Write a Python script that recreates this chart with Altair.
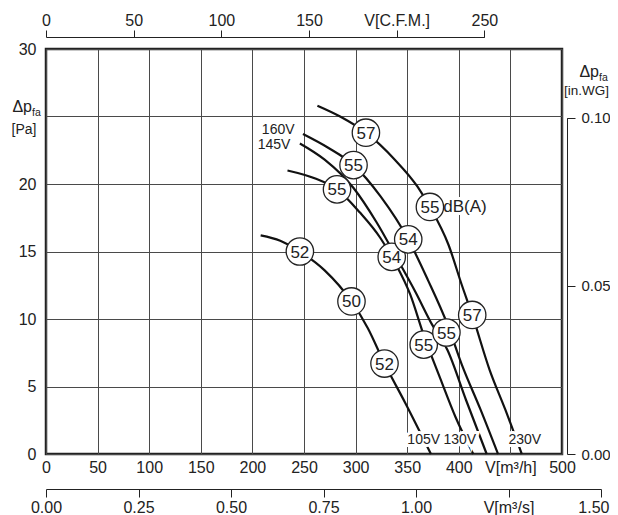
import altair as alt
import pandas as pd

# ---------------- data ----------------
# fan curves: volume flow [m3/h] vs. static pressure [Pa]
flow_105V = [208, 227, 246, 270, 296, 312, 328, 348, 373]
dp_105V = [16.2, 15.8, 15.0, 13.6, 11.3, 9.3, 6.7, 3.8, 0.0]

flow_130V = [234, 261, 282, 304, 324, 338, 353, 366, 382, 397, 414]
dp_130V = [21.0, 20.4, 19.6, 17.9, 16.0, 14.2, 11.8, 8.8, 5.6, 2.7, 0.0]

flow_145V = [246, 270, 298, 320, 340, 358, 374, 389, 407, 427]
dp_145V = [23.0, 21.8, 19.7, 17.2, 14.5, 12.0, 9.6, 7.7, 4.0, 0.0]

flow_160V = [249, 273, 298, 324, 351, 370, 389, 403, 421, 438]
dp_160V = [23.7, 22.7, 21.4, 19.1, 15.9, 12.9, 9.6, 6.6, 3.3, 0.0]

flow_230V = [263, 285, 310, 338, 360, 372, 390, 403, 413, 430, 445, 461]
dp_230V = [25.8, 25.0, 23.8, 21.8, 19.8, 18.3, 15.5, 12.5, 10.3, 6.2, 3.3, 0.0]

# sound level markers dB(A)
marker_flow = [246, 296, 328, 282, 335, 366, 298, 351, 388, 310, 372, 413]
marker_dp = [15.0, 11.3, 6.7, 19.6, 14.6, 8.1, 21.4, 15.9, 9.0, 23.8, 18.3, 10.3]
marker_db = ["52", "50", "52", "55", "54", "55", "55", "54", "55", "57", "55", "57"]

# voltage labels
volt_text = ["160V", "145V", "105V", "130V", "230V"]
volt_flow = [225, 221, 366, 401, 464]
volt_dp = [24.0, 22.9, 1.05, 1.05, 1.05]

unit_text = ["dB(A)"]
unit_flow = [406]
unit_dp = [18.3]

# axes
x_ticks = [0, 50, 100, 150, 200, 250, 300, 350, 400, 450, 500]
y_ticks = [0, 5, 10, 15, 20, 25, 30]
cfm_ticks = [0, 50, 100, 150, 200, 250]
ms_ticks = [0.0, 0.25, 0.5, 0.75, 1.0, 1.25, 1.5]
inwg_ticks = [0.0, 0.05, 0.10]

# ---------------- layout / style ----------------
W, H = 516, 405
FONT = "Liberation Sans"
INK = "#222222"
GRID = "#4a4a4a"
CFM_TO_M3H = 1.699
PA_PER_INWG = 249.09

curves = pd.DataFrame(
    [
        dict(volt=v, flow=f, dp=p, i=i)
        for v, fl, dps in [
            ("105V", flow_105V, dp_105V),
            ("130V", flow_130V, dp_130V),
            ("145V", flow_145V, dp_145V),
            ("160V", flow_160V, dp_160V),
            ("230V", flow_230V, dp_230V),
        ]
        for i, (f, p) in enumerate(zip(fl, dps))
    ]
)
markers = pd.DataFrame({"flow": marker_flow, "dp": marker_dp, "db": marker_db})
vlabels = pd.DataFrame({"flow": volt_flow, "dp": volt_dp, "t": volt_text})
ulabels = pd.DataFrame({"flow": unit_flow, "dp": unit_dp, "t": unit_text})

x_axis = alt.Axis(
    orient="bottom", values=x_ticks, grid=True, gridColor=GRID, gridWidth=1,
    ticks=False, tickSize=0, domain=False, labelPadding=5, labelFlush=False,
    labelOverlap=False, labelFontSize=16, labelColor=INK, labelFont=FONT,
    labelExpr="datum.value == 450 ? 'V[m³/h]' : datum.label", title=None,
)
y_axis = alt.Axis(
    orient="left", values=y_ticks, grid=True, gridColor=GRID, gridWidth=1,
    ticks=False, tickSize=0, domain=False, labelPadding=10, labelFlush=False,
    labelOverlap=False, labelFontSize=16, labelColor=INK, labelFont=FONT,
    labelExpr="datum.value == 25 ? '' : datum.label", title=None,
)
X = alt.X("flow:Q", scale=alt.Scale(domain=[0, 500], nice=False, zero=False), axis=x_axis)
Y = alt.Y("dp:Q", scale=alt.Scale(domain=[0, 30], nice=False, zero=False), axis=y_axis)

lines = alt.Chart(curves).mark_line(
    color="#111111", strokeWidth=2.2, interpolate="monotone"
).encode(x=X, y=Y, detail="volt:N", order="i:Q")

halo_v = alt.Chart(vlabels).mark_text(
    font=FONT, fontSize=14, fill="white", stroke="white", strokeWidth=6,
    align="center", baseline="middle",
).encode(x=X, y=Y, text="t:N")
text_v = alt.Chart(vlabels).mark_text(
    font=FONT, fontSize=14, fill=INK, align="center", baseline="middle",
).encode(x=X, y=Y, text="t:N")

halo_u = alt.Chart(ulabels).mark_text(
    font=FONT, fontSize=17, fill="white", stroke="white", strokeWidth=6,
    align="center", baseline="middle",
).encode(x=X, y=Y, text="t:N")
text_u = alt.Chart(ulabels).mark_text(
    font=FONT, fontSize=17, fill=INK, align="center", baseline="middle",
).encode(x=X, y=Y, text="t:N")

circles = alt.Chart(markers).mark_point(
    shape="circle", filled=True, fill="white", stroke=INK, strokeWidth=1.3,
    size=750, opacity=1,
).encode(x=X, y=Y)
circle_text = alt.Chart(markers).mark_text(
    font=FONT, fontSize=17, fill=INK, align="center", baseline="middle", dy=1,
).encode(x=X, y=Y, text="db:N")

one = pd.DataFrame({"a": [0]})


def label(txt, x, y, size, align="center"):
    return alt.Chart(one).mark_text(
        font=FONT, fontSize=size, fill=INK, align=align, baseline="middle"
    ).encode(x=alt.value(x), y=alt.value(y), text=alt.value(txt))


titles = [
    label("Δp", -14, 58, 16, "right"),
    label("fa", -14, 64, 10.5, "left"),
    label("[Pa]", -22, 81, 14),
    label("Δp", 553, 23, 16, "right"),
    label("fa", 553, 29, 10.5, "left"),
    label("[in.WG]", 563, 42, 13.5, "right"),
]

main = alt.layer(lines, halo_v, halo_u, circles, circle_text, text_v, text_u, *titles)

cfm = alt.Chart(pd.DataFrame({"cfm": cfm_ticks})).mark_point(opacity=0).encode(
    x=alt.X(
        "cfm:Q",
        scale=alt.Scale(domain=[0, 250], range=[0, W * 250 * CFM_TO_M3H / 500], nice=False, zero=False),
        axis=alt.Axis(
            orient="top", offset=12, values=cfm_ticks, tickSize=7, labelPadding=2,
            labelFlush=False, labelOverlap=False, grid=False, domainColor=INK,
            tickColor=INK, labelFontSize=16, labelColor=INK, labelFont=FONT,
            labelExpr="datum.value == 200 ? 'V[C.F.M.]' : datum.label", title=None,
        ),
    )
)

ms = alt.Chart(pd.DataFrame({"ms": ms_ticks})).mark_point(opacity=0).encode(
    x=alt.X(
        "ms:Q",
        scale=alt.Scale(domain=[0, 1.5], range=[0, 555], nice=False, zero=False),
        axis=alt.Axis(
            orient="bottom", offset=35, values=ms_ticks, format=".2f", tickSize=8,
            labelPadding=2, labelFlush=False, labelOverlap=False, grid=False,
            domainColor=INK, tickColor=INK, labelFontSize=16, labelColor=INK,
            labelFont=FONT,
            labelAlign={"condition": {"test": "datum.value >= 1.5", "value": "right"}, "value": "center"},
            labelOffset={"condition": {"test": "datum.value >= 1.5", "value": 8}, "value": 0},
            labelExpr="datum.value == 1.25 ? 'V[m³/s]' : datum.label", title=None,
        ),
    )
)

inwg = alt.Chart(pd.DataFrame({"w": inwg_ticks})).mark_point(opacity=0).encode(
    y=alt.Y(
        "w:Q",
        scale=alt.Scale(domain=[0, 0.1], range=[H, H - H * 0.1 * PA_PER_INWG / 30], nice=False, zero=False),
        axis=alt.Axis(
            orient="right", offset=5, values=inwg_ticks, format=".2f", tickSize=8,
            labelPadding=6, labelFlush=False, labelOverlap=False, grid=False,
            domainColor=INK, tickColor=INK, labelFontSize=15, labelColor=INK,
            labelFont=FONT, title=None,
        ),
    )
)

chart = (
    alt.layer(main, cfm, ms, inwg)
    .resolve_scale(x="independent", y="independent")
    .properties(
        width=W, height=H,
        autosize=alt.AutoSizeParams(type="none"),
        padding={"left": 38, "top": 41, "right": 48, "bottom": 64},
    )
    .configure_view(stroke=INK, strokeWidth=2.5)
)

chart.save("out.html", embed_options={"renderer": "svg", "actions": False})
